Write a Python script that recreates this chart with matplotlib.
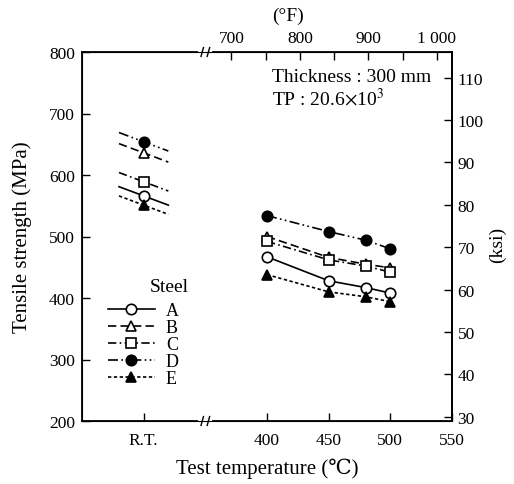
import matplotlib.pyplot as plt
import numpy as np

plt.rcParams['font.family'] = ['Liberation Serif', 'DejaVu Serif']
plt.rcParams['mathtext.fontset'] = 'stix'

# data (MPa)
steels = ['A', 'B', 'C', 'D', 'E']
rt_strength = [566, 636, 589, 654, 551]
temps = [400, 450, 480, 500]
strength_A = [467, 428, 417, 408]
strength_B = [500, 466, 455, 449]
strength_C = [492, 462, 452, 442]
strength_D = [534, 508, 494, 480]
strength_E = [438, 410, 402, 394]
series = [strength_A, strength_B, strength_C, strength_D, strength_E]

rt_pos = 300      # where "R.T." sits on the broken axis
break_pos = 350

markers = ['o', '^', 's', 'o', '^']
filled = [False, False, False, True, True]
dashes = ['-', (0, (5, 2.5)), (0, (5, 2, 1, 2)), (0, (6, 2, 1, 2, 1, 2)), (0, (2, 1.5))]

fig = plt.figure(figsize=(5.14, 4.85), dpi=100)
ax = fig.add_axes([82/514, 1-422/485, 370/514, 369/485])

for name, rt, vals, mk, fl, ls in zip(steels, rt_strength, series, markers, filled, dashes):
    fc = 'black' if fl else 'white'
    ax.plot(temps, vals, color='black', lw=1.2, linestyle=ls, marker=mk, ms=7.5,
            mfc=fc, mec='black', mew=1.2, label=name, zorder=3)
    # short sloped scatter band through the room temperature value
    xs = np.array([rt_pos - 20, rt_pos + 20])
    ax.plot(xs, rt + 0.75 * (rt_pos - xs), color='black', lw=1.2, linestyle=ls, zorder=2)
    ax.plot([rt_pos], [rt], color='black', linestyle='none', marker=mk, ms=7.5,
            mfc=fc, mec='black', mew=1.2, zorder=4)

ax.set_xlim(250, 550)
ax.set_ylim(200, 800)
ax.set_xticks([rt_pos, 400, 450, 500, 550])
ax.set_xticklabels(['R.T.', '400', '450', '500', '550'])
ax.set_yticks(range(200, 801, 100))
ax.tick_params(direction='in', length=6, labelsize=12.5, width=1)
ax.tick_params(axis='x', pad=8)
ax.tick_params(axis='y', pad=5)
for s in ax.spines.values():
    s.set_linewidth(1.3)

ax.set_xlabel('Test temperature (℃)', fontsize=15, va='center')
ax.xaxis.set_label_coords(0.5, (422 - 469) / 369)
ax.set_ylabel('Tensile strength (MPa)', fontsize=15, va='center')
ax.yaxis.set_label_coords((22 - 82) / 370, 0.5)

# ksi on the right
ax2 = ax.twinx()
ax2.set_ylim(200/6.895, 800/6.895)
ax2.set_yticks(range(30, 111, 10))
ax2.tick_params(direction='in', length=6, labelsize=12.5, width=1, pad=4)
ax2.spines['right'].set_linewidth(1.3)
ax2.set_ylabel('(ksi)', fontsize=14, va='center')
ax2.yaxis.set_label_coords((497 - 82) / 370, 1 - (245 - 53) / 369)

# Fahrenheit on the top
secax = ax.secondary_xaxis('top', functions=(lambda c: c*9/5 + 32, lambda f: (f - 32)*5/9))
secax.set_xticks([700, 800, 900, 1000])
secax.set_xticklabels(['700', '800', '900', '1 000'])
secax.set_xticks([750, 850, 950], minor=True)
secax.tick_params(which='both', direction='in', length=6, labelsize=12.5, width=1, pad=4)
secax.spines['top'].set_visible(False)
fig.text(288/514, 1 - 16/485, '(°F)', fontsize=14, ha='center', va='center')

# axis break marks on top and bottom spines
trans = ax.get_xaxis_transform()
for yb in (0, 1):
    ax.plot([break_pos - 4, break_pos + 4], [yb, yb], color='white', lw=3,
            transform=trans, clip_on=False, zorder=5)
    for dx in (-2.5, 2.5):
        ax.plot([break_pos + dx - 1, break_pos + dx + 1], [yb - 0.012, yb + 0.012],
                color='black', lw=1, transform=trans, clip_on=False, zorder=6)

ax.text((272 - 82) / 370, 1 - (77 - 53) / 369, 'Thickness : 300 mm', transform=ax.transAxes,
        fontsize=14, va='center', ha='left')
ax.text((272 - 82) / 370, 1 - (99 - 53) / 369, r'TP : 20.6$\times$10$^3$', transform=ax.transAxes,
        fontsize=14, va='center', ha='left')

ax.text((169 - 82) / 370, 1 - (287 - 53) / 369, 'Steel', transform=ax.transAxes,
        fontsize=14, va='center', ha='center')
ax.legend(loc='upper left', bbox_to_anchor=((108 - 82) / 370, 1 - (303 - 53) / 369),
          frameon=False, fontsize=13, handlelength=2.6, labelspacing=0.0,
          handletextpad=0.6, borderpad=0, borderaxespad=0)

fig.savefig('out.png', dpi=100)
